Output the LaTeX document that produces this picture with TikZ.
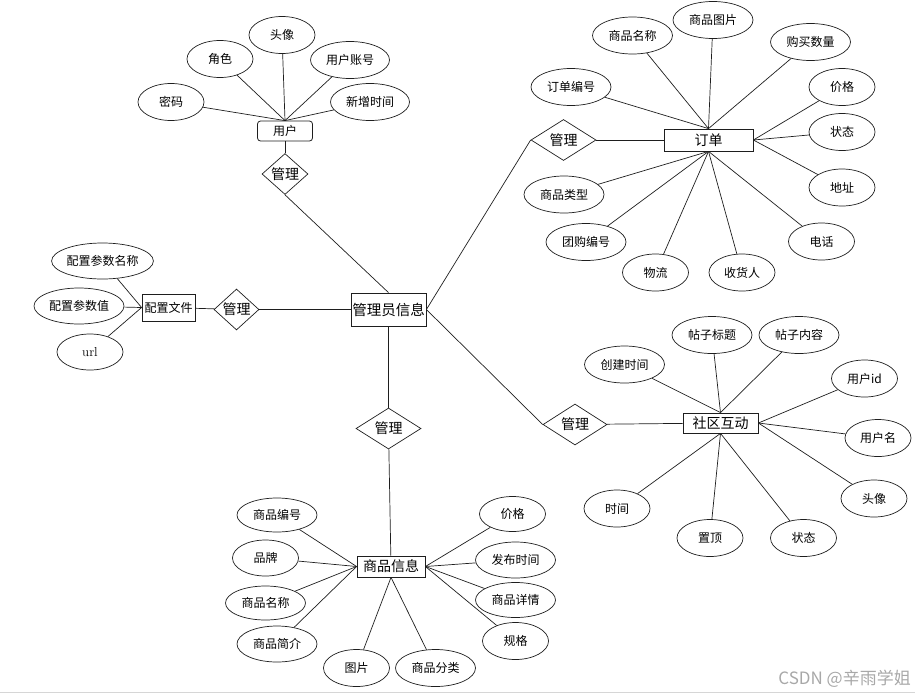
\documentclass[tikz,border=0pt]{standalone}
\usepackage{fontspec}
\newfontfamily\cjk{Noto Sans CJK SC}
\usetikzlibrary{shapes.geometric}
\definecolor{wire}{HTML}{1E1E1E}
\definecolor{mark}{HTML}{A8A8A8}
\definecolor{rule}{HTML}{D6D6D6}

\begin{document}
\begin{tikzpicture}[
  x=1pt, y=-1pt,
  font=\cjk\fontsize{12}{14}\selectfont,
  entity/.style={draw=wire, line width=0.8pt, minimum height=21pt, inner sep=0pt, font=\cjk\fontsize{14}{16}\selectfont},
  small/.style={entity, font=\cjk\fontsize{12}{14}\selectfont},
  attr/.style={ellipse, draw=wire, line width=0.7pt, minimum width=66pt, minimum height=37pt, inner sep=0pt},
  wide/.style={attr, minimum width=80pt},
  rel/.style={diamond, draw=wire, line width=0.7pt, inner sep=0pt, minimum width=65pt, minimum height=41pt, font=\cjk\fontsize{14}{16}\selectfont},
  link/.style={draw=wire, line width=0.7pt}
]
\useasboundingbox (0,0) rectangle (915,694);

% centre
\node[entity, minimum width=75pt, minimum height=33pt, font=\cjk\fontsize{14.5}{16}\selectfont] (admin) at (388.5,309.5) {管理员信息};

% user
\node[small, rounded corners=3pt, minimum width=55pt, minimum height=20pt] (user) at (285,131) {用户};
\node[rel, minimum width=46pt, minimum height=34pt] (relUser) at (285,174) {管理};
\node[attr] (uPwd) at (171,102) {密码};
\node[attr] (uRole) at (220,59) {角色};
\node[attr] (uAvatar) at (282,35) {头像};
\node[wide, minimum width=79pt] (uAcct) at (350,60) {用户账号};
\node[wide, minimum width=79pt] (uTime) at (370,102) {新增时间};
\foreach \a in {uPwd,uRole,uAvatar,uAcct,uTime} \draw[link] (\a) -- (user.north);
\draw[link] (user) -- (relUser);
\draw[link] (relUser.south) -- (admin.north);

% config file
\node[small, minimum width=53pt, minimum height=27pt] (cfg) at (168.5,307.5) {配置文件};
\node[rel, minimum width=45pt, minimum height=29pt] (relCfg) at (236.5,309.5) {管理};
\node[attr, minimum width=101pt, minimum height=36pt] (cName) at (102.5,261) {配置参数名称};
\node[attr, minimum width=90pt, minimum height=36pt] (cVal) at (79,306) {配置参数值};
\node[attr, minimum height=36pt, font=\rmfamily\fontsize{13}{14}\selectfont] (cUrl) at (90,352) {url};
\foreach \a in {cName,cVal,cUrl} \draw[link] (\a) -- (cfg.west);
\draw[link] (cfg) -- (relCfg);
\draw[link] (relCfg) -- (admin);

% goods
\node[rel] (relGoods) at (388.5,428.5) {管理};
\node[entity, minimum width=68pt] (goods) at (391,566.5) {商品信息};
\draw[link] (admin) -- (relGoods);
\draw[link] (relGoods) -- (goods);
\node[wide, minimum height=34pt] (gNo) at (277,515) {商品编号};
\node[attr, minimum height=36pt] (gBrand) at (265.5,558) {品牌};
\node[wide, minimum height=34pt] (gName) at (265.5,603) {商品名称};
\node[wide, minimum height=36pt] (gIntro) at (277,644) {商品简介};
\node[attr] (gPic) at (356.5,668) {图片};
\node[wide] (gCat) at (435.5,668) {商品分类};
\node[attr, minimum height=35pt] (gPrice) at (512.5,514) {价格};
\node[wide, minimum height=36pt] (gDate) at (515.5,560) {发布时间};
\node[wide, minimum height=35pt] (gDetail) at (515.5,600) {商品详情};
\node[attr] (gSpec) at (515.5,641) {规格};
\foreach \a in {gNo,gBrand,gName,gIntro} \draw[link] (\a) -- (goods.west);
\foreach \a in {gPic,gCat} \draw[link] (\a) -- (goods.south);
\foreach \a in {gPrice,gDate,gDetail,gSpec} \draw[link] (\a) -- (goods.east);

% order
\node[rel] (relOrder) at (563.5,140) {管理};
\node[entity, minimum width=89pt, minimum height=22pt] (order) at (708.5,140) {订单};
\draw[link] (admin.east) -- (relOrder.west);
\draw[link] (relOrder) -- (order);
\node[wide] (oName) at (632.5,35.5) {商品名称};
\node[wide] (oPic) at (713,20) {商品图片};
\node[wide] (oQty) at (810.5,42) {购买数量};
\node[wide] (oNo) at (571,87) {订单编号};
\node[attr] (oPrice) at (842,87) {价格};
\node[attr] (oState) at (842,132) {状态};
\node[attr] (oAddr) at (842,187.5) {地址};
\node[attr] (oTel) at (821.5,241.5) {电话};
\node[wide] (oType) at (564,194.5) {商品类型};
\node[wide] (oGroup) at (586,242) {团购编号};
\node[attr] (oShip) at (655.5,272.5) {物流};
\node[attr] (oRecv) at (742,272.5) {收货人};
\foreach \a in {oNo,oName,oPic,oQty} \draw[link] (\a) -- (order.north);
\foreach \a in {oPrice,oState,oAddr} \draw[link] (\a) -- (order.east);
\foreach \a in {oType,oGroup,oShip,oRecv,oTel} \draw[link] (\a) -- (order.south);

% community
\node[rel, minimum width=64pt] (relForum) at (575,424.5) {管理};
\node[entity, minimum width=75pt, minimum height=20pt] (forum) at (720.5,423) {社区互动};
\draw[link] (admin.east) -- (relForum.west);
\draw[link] (relForum) -- (forum);
\node[wide] (fCreate) at (624.5,364.5) {创建时间};
\node[wide] (fTitle) at (712,335) {帖子标题};
\node[wide] (fBody) at (799,335) {帖子内容};
\node[attr] (fUid) at (864.5,378.5) {用户id};
\node[attr] (fUname) at (878,438) {用户名};
\node[attr] (fAvatar) at (874,498.5) {头像};
\node[attr] (fState) at (803.5,538) {状态};
\node[attr] (fTop) at (710,538) {置顶};
\node[attr] (fTime) at (617,508.5) {时间};
\foreach \a in {fCreate,fTitle,fBody} \draw[link] (\a) -- (forum.north);
\foreach \a in {fUid,fUname,fAvatar} \draw[link] (\a) -- (forum.east);
\foreach \a in {fTime,fTop,fState} \draw[link] (\a) -- (forum.south);

% watermark and bottom rule
\node[font=\cjk\fontsize{17}{17}\selectfont, text=mark, anchor=east, inner sep=0pt] (stamp) at (911,679) {CSDN @辛雨学姐};
\draw[rule, line width=1.5pt] (0,692.5) -- (915,692.5);
\end{tikzpicture}
\end{document}
